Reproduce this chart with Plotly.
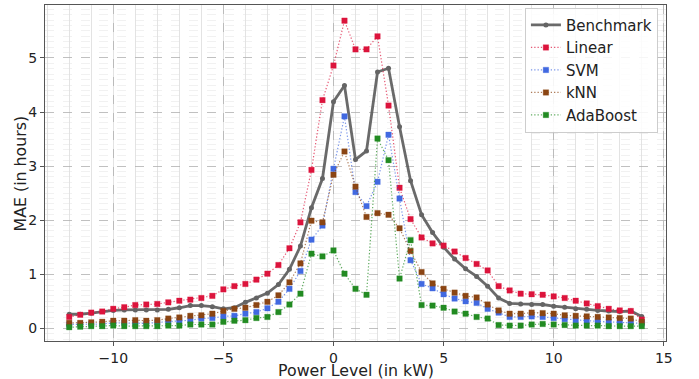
import plotly.graph_objects as go

power_kw = [-12, -11.5, -11, -10.5, -10, -9.5, -9, -8.5, -8, -7.5, -7, -6.5, -6, -5.5, -5, -4.5,
            -4, -3.5, -3, -2.5, -2, -1.5, -1, -0.5, 0, 0.5, 1, 1.5, 2, 2.5, 3, 3.5, 4, 4.5, 5,
            5.5, 6, 6.5, 7, 7.5, 8, 8.5, 9, 9.5, 10, 10.5, 11, 11.5, 12, 12.5, 13, 13.5, 14]

benchmark = [0.26, 0.26, 0.28, 0.31, 0.33, 0.34, 0.34, 0.34, 0.34, 0.35, 0.38, 0.42, 0.42, 0.40,
             0.36, 0.38, 0.48, 0.56, 0.65, 0.81, 1.09, 1.52, 2.23, 2.77, 4.19, 4.49, 3.12, 3.28,
             4.74, 4.81, 3.73, 2.73, 2.10, 1.77, 1.50, 1.28, 1.10, 0.96, 0.78, 0.56, 0.46, 0.45,
             0.44, 0.44, 0.41, 0.39, 0.36, 0.35, 0.33, 0.32, 0.31, 0.32, 0.22]

linear = [0.21, 0.25, 0.29, 0.31, 0.36, 0.39, 0.43, 0.44, 0.45, 0.48, 0.51, 0.53, 0.56, 0.60,
          0.72, 0.78, 0.82, 0.90, 1.01, 1.17, 1.48, 1.96, 2.93, 4.22, 4.86, 5.69, 5.16, 5.16,
          5.40, 4.12, 2.60, 2.02, 1.68, 1.57, 1.53, 1.42, 1.30, 1.19, 1.07, 0.78, 0.70, 0.64,
          0.63, 0.62, 0.59, 0.56, 0.51, 0.46, 0.41, 0.36, 0.33, 0.32, 0.16]

svm = [0.07, 0.07, 0.08, 0.08, 0.10, 0.10, 0.10, 0.09, 0.11, 0.12, 0.14, 0.15, 0.18, 0.19,
       0.22, 0.23, 0.27, 0.30, 0.37, 0.49, 0.73, 1.06, 1.64, 1.90, 2.95, 3.92, 2.52, 2.26,
       2.71, 3.58, 2.40, 1.26, 0.82, 0.74, 0.63, 0.55, 0.50, 0.47, 0.36, 0.29, 0.21, 0.21,
       0.22, 0.21, 0.19, 0.17, 0.15, 0.14, 0.13, 0.12, 0.11, 0.11, 0.09]

knn = [0.10, 0.10, 0.11, 0.12, 0.14, 0.14, 0.15, 0.14, 0.15, 0.18, 0.20, 0.23, 0.24, 0.27,
       0.32, 0.36, 0.38, 0.43, 0.49, 0.61, 0.85, 1.20, 1.99, 1.96, 2.84, 3.27, 2.62, 2.06,
       2.13, 2.10, 1.85, 1.43, 1.04, 0.83, 0.73, 0.66, 0.60, 0.57, 0.44, 0.33, 0.27, 0.27,
       0.29, 0.28, 0.27, 0.24, 0.23, 0.22, 0.21, 0.20, 0.19, 0.18, 0.12]

adaboost = [0.02, 0.03, 0.04, 0.04, 0.05, 0.04, 0.04, 0.04, 0.04, 0.05, 0.05, 0.07, 0.07, 0.07,
            0.12, 0.14, 0.15, 0.19, 0.21, 0.30, 0.44, 0.64, 1.38, 1.33, 1.44, 1.01, 0.73, 0.62,
            3.51, 3.11, 0.92, 1.63, 0.43, 0.42, 0.38, 0.31, 0.27, 0.21, 0.18, 0.06, 0.05, 0.05,
            0.07, 0.08, 0.07, 0.06, 0.05, 0.05, 0.05, 0.04, 0.04, 0.04, 0.04]

x_ticks = [-10, -5, 0, 5, 10, 15]
y_ticks = [0, 1, 2, 3, 4, 5]

FONT = "DejaVu Sans, Verdana, sans-serif"

fig = go.Figure()

fig.add_trace(go.Scatter(
    x=power_kw, y=benchmark, name="Benchmark", mode="lines+markers",
    line=dict(color="rgba(90,90,90,0.9)", width=2.8),
    marker=dict(symbol="circle", size=5, color="rgb(100,100,100)"),
))

models = [
    ("Linear", linear, (220, 20, 60)),
    ("SVM", svm, (65, 105, 225)),
    ("kNN", knn, (139, 69, 19)),
    ("AdaBoost", adaboost, (34, 139, 34)),
]
for name, vals, (r, g, b) in models:
    fig.add_trace(go.Scatter(
        x=power_kw, y=vals, name=name, mode="lines+markers",
        line=dict(color=f"rgba({r},{g},{b},0.7)", width=1.2, dash="1.3px,2px"),
        marker=dict(symbol="square", size=5.5, color=f"rgb({r},{g},{b})",
                    line=dict(width=0.6, color=f"rgba({r},{g},{b},0.5)")),
    ))

axis_common = dict(
    automargin=False,
    showline=True, linecolor="#555555", linewidth=1, mirror=True,
    ticks="outside", ticklen=4, tickcolor="#555555", tickwidth=1,
    tickfont=dict(family=FONT, size=14, color="#222222"),
    gridcolor="rgba(160,160,160,0.6)", griddash="dash", gridwidth=0.8,
    zeroline=False,
)

fig.update_xaxes(
    range=[-13.1, 15.1], tickmode="array", tickvals=x_ticks,
    minor=dict(dtick=1, showgrid=True, gridcolor="rgba(215,215,215,0.7)", gridwidth=0.8,
               griddash="solid", ticks=""),
    **axis_common,
)
fig.update_yaxes(
    range=[-0.235, 5.98], tickmode="array", tickvals=y_ticks,
    minor=dict(dtick=0.1, showgrid=True, gridcolor="rgba(225,225,225,0.45)", gridwidth=0.6,
               griddash="dash", ticks=""),
    **axis_common,
)

title_font = dict(family=FONT, size=15.8, color="#222222")
fig.add_annotation(text="Power Level (in kW)", xref="paper", yref="paper",
                   x=0.5, y=-0.088, xanchor="center", yanchor="middle",
                   showarrow=False, font=title_font)
fig.add_annotation(text="MAE (in hours)", xref="paper", yref="paper",
                   x=-0.0395, y=0.5, xanchor="center", yanchor="middle", textangle=-90,
                   showarrow=False, font=title_font)

fig.update_layout(
    width=699, height=379,
    margin=dict(l=45, r=33, t=5, b=38),
    plot_bgcolor="white", paper_bgcolor="white",
    font=dict(family=FONT, size=14, color="#222222"),
    legend=dict(
        x=0.987, y=0.992, xanchor="right", yanchor="top",
        bgcolor="rgba(255,255,255,0.85)", bordercolor="rgba(200,200,200,0.9)", borderwidth=1,
        font=dict(family=FONT, size=15, color="#222222"),
        itemwidth=30, tracegroupgap=0,
    ),
    showlegend=True,
)

fig.write_html("out.html", config={"displayModeBar": False},
               post_script="document.body.style.margin='0';")
